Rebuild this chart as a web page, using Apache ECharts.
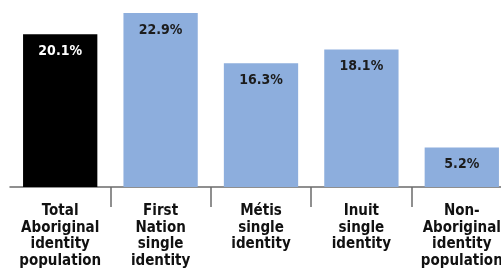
<!DOCTYPE html>
<html>
<head>
<meta charset="utf-8">
<script src="https://cdn.jsdelivr.net/npm/echarts@6/dist/echarts.min.js"></script>
<style>
  html, body { margin: 0; padding: 0; background: #fff; }
  #main { width: 501px; height: 269px; }
</style>
</head>
<body>
<div id="main"></div>
<script>
// categories and values (percent)
var categories = [
	"Total\nAboriginal\nidentity\npopulation",
	"First\nNation\nsingle\nidentity",
	"Métis\nsingle\nidentity",
	"Inuit\nsingle\nidentity",
	"Non-\nAboriginal\nidentity\npopulation"
];
var values = [20.1, 22.9, 16.3, 18.1, 5.2];
var barColors = ["#000000", "#8daedd", "#8daedd", "#8daedd", "#8daedd"];
var labelColors = ["#ffffff", "#1c1c1c", "#1c1c1c", "#1c1c1c", "#1c1c1c"];

var font = "'Liberation Sans Narrow', 'DejaVu Sans Condensed', 'Roboto', sans-serif";

var chart = echarts.init(document.getElementById("main"));

var seriesData = [];
for (var i = 0; i < values.length; i++) {
	seriesData.push({
		value : values[i],
		itemStyle : { color : barColors[i] },
		label : { color : labelColors[i] }
	});
}

chart.setOption({
	animation : false,
	grid : {
		left : 10,
		top : 13,
		width : 502,
		bottom : 82,
		outerBoundsMode : 'none',
		containLabel : false
	},
	xAxis : {
		type : 'category',
		data : categories,
		axisLine : {
			lineStyle : { color : '#6b6b6b', width : 1.5 }
		},
		axisTick : {
			show : true,
			length : 20,
			// no tick on the left edge
			interval : function(index) {
				return index !== 0;
			},
			alignWithLabel : false,
			lineStyle : { color : '#6b6b6b', width : 1.5 }
		},
		axisLabel : {
			interval : 0,
			margin : 16,
			color : '#111',
			fontFamily : font,
			fontWeight : 'bold',
			fontSize : 15,
			lineHeight : 16.5
		}
	},
	yAxis : {
		type : 'value',
		min : 0,
		max : 22.9,
		show : false,
		splitLine : { show : false }
	},
	series : [ {
		type : 'bar',
		barCategoryGap : '26%',
		data : seriesData,
		label : {
			show : true,
			position : 'insideTop',
			distance : 10,
			formatter : '{c}%',
			fontFamily : font,
			fontWeight : 'bold',
			fontSize : 14
		}
	} ]
});
</script>
</body>
</html>
